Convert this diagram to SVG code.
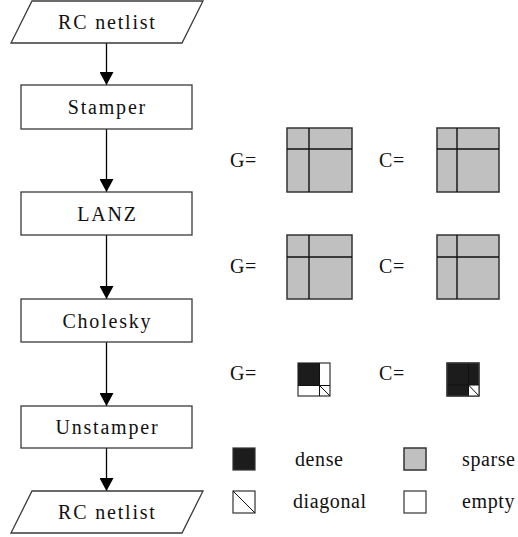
<svg xmlns="http://www.w3.org/2000/svg" width="518" height="537" viewBox="0 0 518 537">
  <style>
    .shape { fill: #ffffff; stroke: #3a3a3a; stroke-width: 1.3; }
    .flow { font-family: 'Liberation Serif', 'DejaVu Serif', 'Noto Serif', serif; font-size: 20px; letter-spacing: 1.8px; text-anchor: middle; fill: #111; }
    .lbl { font-family: 'Liberation Serif', 'DejaVu Serif', 'Noto Serif', serif; font-size: 20px; letter-spacing: 0.6px; fill: #111; }
    .edge { stroke: #000; stroke-width: 1.3; fill: none; marker-end: url(#arrow); }
    .sparse { fill: #c0c0c0; stroke: #333; stroke-width: 1.5; }
    .dense { fill: #1c1c1c; stroke: #333; stroke-width: 1.2; }
    .empty { fill: #ffffff; stroke: #333; stroke-width: 1.2; }
    .div { stroke: #111; stroke-width: 1.4; fill: none; }
    .thin { stroke: #111; stroke-width: 1; fill: none; }
  </style>
  <defs>
    <marker id="arrow" viewBox="0 0 13 14" refX="13" refY="7" markerWidth="13" markerHeight="14" markerUnits="userSpaceOnUse" orient="auto">
      <path d="M0,0 L13,7 L0,14 Z" fill="#000"/>
    </marker>
  </defs>

  <!-- connectors -->
  <g id="connectors">
    <line class="edge" x1="106.5" y1="43" x2="106.5" y2="85"/>
    <line class="edge" x1="106.5" y1="129" x2="106.5" y2="192"/>
    <line class="edge" x1="106.5" y1="235" x2="106.5" y2="299"/>
    <line class="edge" x1="106.5" y1="342" x2="106.5" y2="406"/>
    <line class="edge" x1="106.5" y1="448" x2="106.5" y2="491"/>
  </g>

  <!-- flow nodes -->
  <g id="input">
    <polygon class="shape" points="32,1 203,1 182,43 11,43"/>
    <text class="flow" x="107.4" y="28.5" font-family="Liberation Serif, serif">RC netlist</text>
  </g>
  <g id="stamper">
    <rect class="shape" x="21" y="85" width="171" height="44"/>
    <text class="flow" x="107.4" y="114" font-family="Liberation Serif, serif">Stamper</text>
  </g>
  <g id="lanz">
    <rect class="shape" x="21" y="192" width="171" height="43"/>
    <text class="flow" x="107.4" y="220.5" font-family="Liberation Serif, serif">LANZ</text>
  </g>
  <g id="cholesky">
    <rect class="shape" x="21" y="299" width="171" height="43"/>
    <text class="flow" x="107.4" y="327.5" font-family="Liberation Serif, serif">Cholesky</text>
  </g>
  <g id="unstamper">
    <rect class="shape" x="21" y="406" width="171" height="42"/>
    <text class="flow" x="107.4" y="434" font-family="Liberation Serif, serif">Unstamper</text>
  </g>
  <g id="output">
    <polygon class="shape" points="32,491 203,491 182,533 11,533"/>
    <text class="flow" x="107.4" y="519" font-family="Liberation Serif, serif">RC netlist</text>
  </g>

  <!-- matrices after stamping -->
  <g id="stamped">
    <text class="lbl" x="230" y="167">G=</text>
    <rect class="sparse" x="287" y="128" width="65" height="64"/>
    <line class="div" x1="309" y1="128" x2="309" y2="192"/>
    <line class="div" x1="287" y1="149" x2="352" y2="149"/>
    <text class="lbl" x="379" y="167">C=</text>
    <rect class="sparse" x="437" y="128" width="62" height="64"/>
    <line class="div" x1="457" y1="128" x2="457" y2="192"/>
    <line class="div" x1="437" y1="149" x2="499" y2="149"/>
  </g>

  <!-- matrices after LANZ -->
  <g id="reduced">
    <text class="lbl" x="230" y="273">G=</text>
    <rect class="sparse" x="287" y="235" width="65" height="64"/>
    <line class="div" x1="309" y1="235" x2="309" y2="299"/>
    <line class="div" x1="287" y1="257" x2="352" y2="257"/>
    <text class="lbl" x="379" y="273">C=</text>
    <rect class="sparse" x="437" y="235" width="62" height="64"/>
    <line class="div" x1="457" y1="235" x2="457" y2="299"/>
    <line class="div" x1="437" y1="257" x2="499" y2="257"/>
  </g>

  <!-- matrices after Cholesky -->
  <g id="factored">
    <text class="lbl" x="230" y="380">G=</text>
    <rect class="empty" x="298" y="363" width="32" height="33"/>
    <rect x="298" y="363" width="21.5" height="22.5" fill="#1c1c1c"/>
    <line class="thin" x1="319.5" y1="363" x2="319.5" y2="396"/>
    <line class="thin" x1="298" y1="385.5" x2="330" y2="385.5"/>
    <line class="thin" x1="319.5" y1="385.5" x2="330" y2="396"/>
    <text class="lbl" x="379" y="380">C=</text>
    <rect class="dense" x="447" y="363" width="32" height="33"/>
    <rect x="468.5" y="385" width="10.5" height="11" fill="#ffffff"/>
    <line class="thin" x1="468.5" y1="363" x2="468.5" y2="396"/>
    <line class="thin" x1="447" y1="385" x2="479" y2="385"/>
    <line class="thin" x1="468.5" y1="385" x2="479" y2="396"/>
    <rect x="447" y="363" width="32" height="33" fill="none" stroke="#333" stroke-width="1.2"/>
  </g>

  <!-- legend -->
  <g id="legend">
    <rect class="dense" x="233" y="448" width="22" height="22"/>
    <text class="lbl" x="295" y="466">dense</text>
    <rect class="sparse" x="404" y="448" width="22" height="22"/>
    <text class="lbl" x="462" y="466">sparse</text>
    <rect class="empty" x="233" y="491" width="22" height="22"/>
    <line class="thin" x1="233" y1="491" x2="255" y2="513"/>
    <text class="lbl" x="293" y="508">diagonal</text>
    <rect class="empty" x="404" y="491" width="22" height="22"/>
    <text class="lbl" x="462" y="508">empty</text>
  </g>
</svg>
